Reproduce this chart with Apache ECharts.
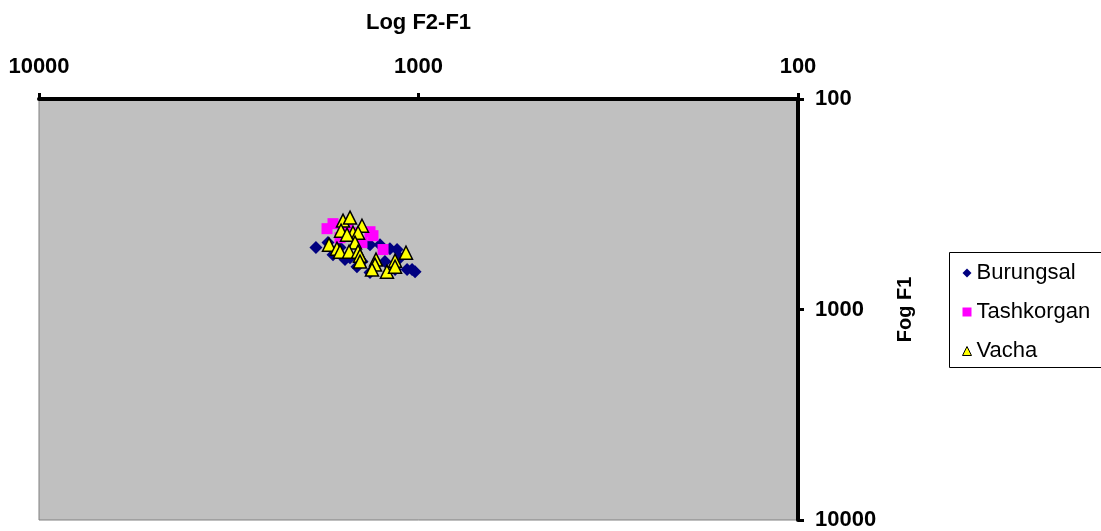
<!DOCTYPE html>
<html>
<head>
<meta charset="utf-8">
<title>Log F2-F1 / Fog F1</title>
<script src="https://cdn.jsdelivr.net/npm/echarts@6/dist/echarts.min.js"></script>
<style>
  html, body { margin: 0; padding: 0; background: #ffffff; }
  #chart { width: 1101px; height: 531px; }
</style>
</head>
<body>
<div id="chart"></div>
<script>
// Axis labels and series names
const xAxisName = 'Log F2-F1';
const yAxisName = 'Fog F1';
const seriesNames = ['Burungsal', 'Tashkorgan', 'Vacha'];

// Points are [F2-F1, F1] in Hz
const burungsal = [
  [1863, 508], [1732, 481], [1680, 549], [1610, 508], [1562, 579],
  [1515, 567], [1453, 626], [1409, 592], [1342, 492], [1263, 492],
  [1226, 592], [1189, 514], [1139, 519], [1119, 567], [1342, 668],
  [1153, 646], [1072, 646], [1040, 646], [1021, 661]
];
const tashkorgan = [
  [1742, 413], [1680, 391], [1534, 404], [1610, 456], [1470, 432],
  [1409, 481], [1342, 427], [1318, 446], [1240, 519]
];
const vacha = [
  [1581, 378], [1515, 366], [1409, 400], [1600, 422], [1488, 432],
  [1443, 432], [1543, 441], [1470, 481], [1721, 492], [1640, 514],
  [1610, 531], [1524, 531], [1443, 531], [1426, 555], [1426, 592],
  [1294, 579], [1302, 612], [1326, 646], [1211, 661], [1153, 586],
  [1153, 626], [1079, 537]
];

const FONT = "'Liberation Sans', Arial, sans-serif";

const chart = echarts.init(document.getElementById('chart'), null, { renderer: 'canvas' });

const axisLabel = (pos) => ({
  fontFamily: FONT,
  fontSize: 22,
  fontWeight: 'bold',
  color: '#000',
  margin: pos === 'top' ? 21 : 17,
  formatter: (v) => String(Math.round(v))
});

chart.setOption({
  animation: false,
  backgroundColor: '#ffffff',
  textStyle: { fontFamily: FONT },
  grid: {
    left: 39, right: 303, top: 99, bottom: 10,
    show: true,
    backgroundColor: '#c0c0c0',
    borderColor: '#808080',
    borderWidth: 1
  },
  xAxis: {
    type: 'log',
    logBase: 10,
    min: 100,
    max: 10000,
    inverse: true,
    position: 'top',
    name: xAxisName,
    nameLocation: 'middle',
    nameGap: 65,
    nameTextStyle: { fontFamily: FONT, fontSize: 22, fontWeight: 'bold', color: '#000' },
    axisLine: { show: true, onZero: false, lineStyle: { color: '#000', width: 4 } },
    axisTick: { show: true, inside: false, length: 6, lineStyle: { color: '#000', width: 3 } },
    minorTick: { show: false },
    splitLine: { show: false },
    axisLabel: axisLabel('top')
  },
  yAxis: {
    type: 'log',
    logBase: 10,
    min: 100,
    max: 10000,
    inverse: true,
    position: 'right',
    name: yAxisName,
    nameLocation: 'middle',
    nameRotate: 90,
    nameGap: 97,
    nameTextStyle: { fontFamily: FONT, fontSize: 20, fontWeight: 'bold', color: '#000' },
    axisLine: { show: true, onZero: false, lineStyle: { color: '#000', width: 4 } },
    axisTick: { show: true, inside: false, length: 6, lineStyle: { color: '#000', width: 3 } },
    minorTick: { show: false },
    splitLine: { show: false },
    axisLabel: axisLabel('right')
  },
  legend: {
    orient: 'vertical',
    left: 962,
    top: 262,
    padding: 0,
    itemGap: 17,
    itemWidth: 9,
    itemHeight: 9,
    data: seriesNames,
    itemStyle: { opacity: 1, borderWidth: 1 },
    textStyle: { fontFamily: FONT, fontSize: 22, color: '#000', lineHeight: 22 }
  },
  graphic: [{
    type: 'rect',
    z: -1,
    shape: { x: 949.5, y: 252.5, width: 200, height: 115 },
    style: { fill: 'none', stroke: '#000', lineWidth: 1 }
  }],
  series: [
    {
      name: seriesNames[0],
      type: 'scatter',
      symbol: 'diamond',
      symbolSize: 13,
      itemStyle: { color: '#000080', opacity: 1 },
      data: burungsal
    },
    {
      name: seriesNames[1],
      type: 'scatter',
      symbol: 'rect',
      symbolSize: 11,
      itemStyle: { color: '#ff00ff', opacity: 1 },
      data: tashkorgan
    },
    {
      name: seriesNames[2],
      type: 'scatter',
      symbol: 'triangle',
      symbolSize: 13,
      itemStyle: { color: '#ffff00', borderColor: '#000', borderWidth: 1.5, opacity: 1 },
      data: vacha
    }
  ]
});
</script>
</body>
</html>
